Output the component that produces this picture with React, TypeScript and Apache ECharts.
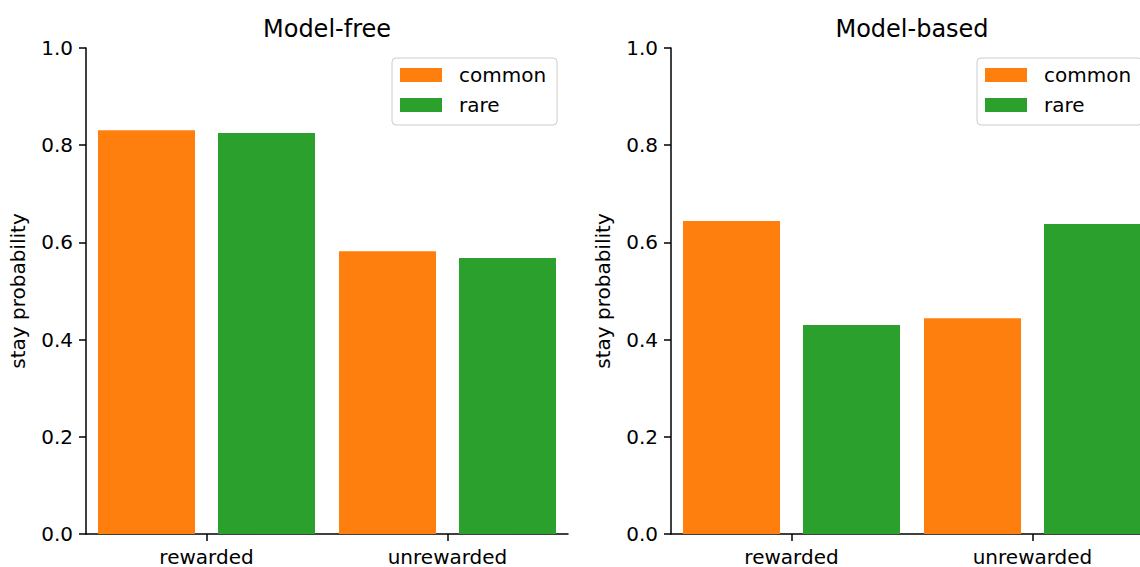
import React, { useEffect, useRef } from "react";
import * as echarts from "echarts";

const categories = ["rewarded", "unrewarded"];
const seriesNames = ["common", "rare"];
const modelFreeCommon = [0.831, 0.582];
const modelFreeRare = [0.825, 0.568];
const modelBasedCommon = [0.644, 0.444];
const modelBasedRare = [0.43, 0.638];
const titles = ["Model-free", "Model-based"];
const yTicks = [0, 0.2, 0.4, 0.6, 0.8, 1.0];

const ORANGE = "#ff7f0e";
const GREEN = "#2ca02c";
const FONT = "DejaVu Sans";

export default function App() {
  const ref = useRef<HTMLDivElement>(null);
  useEffect(() => {
    if (!ref.current) return;
    const chart = echarts.init(ref.current, undefined, { renderer: "svg" });
    const gridLefts = [86, 671];
    const gridW = 482;
    const gridTop = 48;
    const gridH = 486;

    const xAxis = gridLefts.map((_, i) => ({
      type: "category",
      gridIndex: i,
      data: categories,
      axisLine: { show: true, lineStyle: { color: "#000", width: 1.5 } },
      axisTick: { show: true, alignWithLabel: true, length: 7, lineStyle: { color: "#000", width: 1.5 } },
      axisLabel: { fontSize: 20, lineHeight: 18, color: "#000", fontFamily: FONT, margin: 14 },
      splitLine: { show: false },
    }));
    const yAxis = gridLefts.map((_, i) => ({
      type: "value",
      gridIndex: i,
      min: yTicks[0],
      max: yTicks[yTicks.length - 1],
      interval: 0.2,
      name: "stay probability",
      nameLocation: "middle",
      nameGap: 58,
      nameTextStyle: { fontSize: 20, color: "#000", fontFamily: FONT },
      axisLine: { show: true, lineStyle: { color: "#000", width: 1.5 } },
      axisTick: { show: true, length: 7, lineStyle: { color: "#000", width: 1.5 } },
      axisLabel: {
        fontSize: 20,
        color: "#000",
        fontFamily: FONT,
        margin: 13,
        formatter: (v: number) => v.toFixed(1),
      },
      splitLine: { show: false },
    }));

    const mk = (name: string, data: number[], color: string, idx: number) => ({
      type: "bar",
      name,
      data,
      xAxisIndex: idx,
      yAxisIndex: idx,
      barWidth: 97,
      barGap: "23.7%",
      itemStyle: { color },
    });

    const legend = [392, 977].map((left) => ({
      left,
      top: 58,
      orient: "vertical",
      data: seriesNames,
      icon: "rect",
      itemWidth: 42,
      itemHeight: 14,
      itemGap: 10,
      backgroundColor: "#fff",
      borderColor: "#cccccc",
      borderWidth: 1,
      borderRadius: 4,
      padding: [7, 11, 10, 8],
      selectedMode: false,
      textStyle: { fontSize: 20, color: "#000", fontFamily: FONT, padding: [0, 0, 0, 12] },
    }));

    chart.setOption({
      animation: false,
      backgroundColor: "#fff",
      textStyle: { fontFamily: FONT },
      grid: gridLefts.map((left) => ({ left, top: gridTop, width: gridW, height: gridH })),
      xAxis,
      yAxis,
      legend,
      series: [
        mk(seriesNames[0], modelFreeCommon, ORANGE, 0),
        mk(seriesNames[1], modelFreeRare, GREEN, 0),
        mk(seriesNames[0], modelBasedCommon, ORANGE, 1),
        mk(seriesNames[1], modelBasedRare, GREEN, 1),
      ],
      graphic: titles.map((t, i) => ({
        type: "text",
        x: gridLefts[i] + gridW / 2,
        y: 29,
        style: {
          text: t,
          fontSize: 24,
          fontFamily: FONT,
          fill: "#000",
          textAlign: "center",
          textVerticalAlign: "middle",
        },
      })),
    });
    return () => chart.dispose();
  }, []);
  return (
    <div style={{ position: "absolute", left: 0, top: 0, width: 1140, height: 567, overflow: "hidden" }}>
      <div ref={ref} style={{ width: 1200, height: 567 }} />
    </div>
  );
}
